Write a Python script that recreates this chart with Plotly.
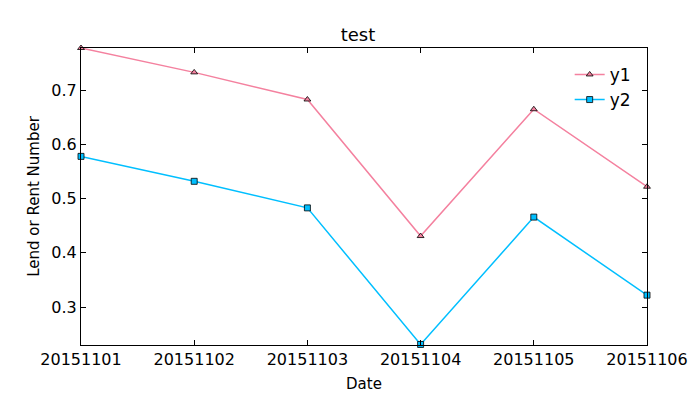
import plotly.graph_objects as go

# data
dates = ["20151101", "20151102", "20151103", "20151104", "20151105", "20151106"]
y1 = [0.778, 0.733, 0.683, 0.431, 0.665, 0.522]
y2 = [0.578, 0.532, 0.483, 0.231, 0.466, 0.322]

x = list(range(len(dates)))

fig = go.Figure()
fig.add_trace(go.Scatter(x=x, y=y1, name="y1", mode="lines+markers",
                         line=dict(color="#f4819f", width=1.5),
                         marker=dict(symbol="triangle-up", size=6, color="#f4819f",
                                     line=dict(color="black", width=0.8)),
                         cliponaxis=False))
fig.add_trace(go.Scatter(x=x, y=y2, name="y2", mode="lines+markers",
                         line=dict(color="#00bfff", width=1.5),
                         marker=dict(symbol="square", size=6, color="#00bfff",
                                     line=dict(color="black", width=0.8)),
                         cliponaxis=False))

axis_style = dict(showline=True, linecolor="black", linewidth=1, mirror="ticks",
                  ticks="inside", ticklen=5, tickcolor="black", showgrid=False,
                  zeroline=False, automargin=False,
                  tickfont=dict(size=16, color="black"))

fig.update_layout(
    width=700, height=400,
    paper_bgcolor="white", plot_bgcolor="white",
    font=dict(family="DejaVu Sans", color="black"),
    title=dict(text="test", x=0.5, xanchor="center", y=0.933, yanchor="middle",
               font=dict(size=18), automargin=False),
    margin=dict(l=73, r=61, t=40, b=63, autoexpand=False),
    xaxis=dict(axis_style, range=[0, 5], tickvals=x, ticktext=dates,
               title=dict(text="Date", font=dict(size=15), standoff=10)),
    yaxis=dict(axis_style, range=[0.23, 0.778], tickvals=[0.3, 0.4, 0.5, 0.6, 0.7],
               tickformat=".1f",
               title=dict(text="Lend or Rent Number", font=dict(size=15), standoff=8)),
    legend=dict(x=0.98, y=0.97, xanchor="right", yanchor="top",
                bgcolor="rgba(0,0,0,0)", font=dict(size=17)),
)

fig.write_html("out.html")
